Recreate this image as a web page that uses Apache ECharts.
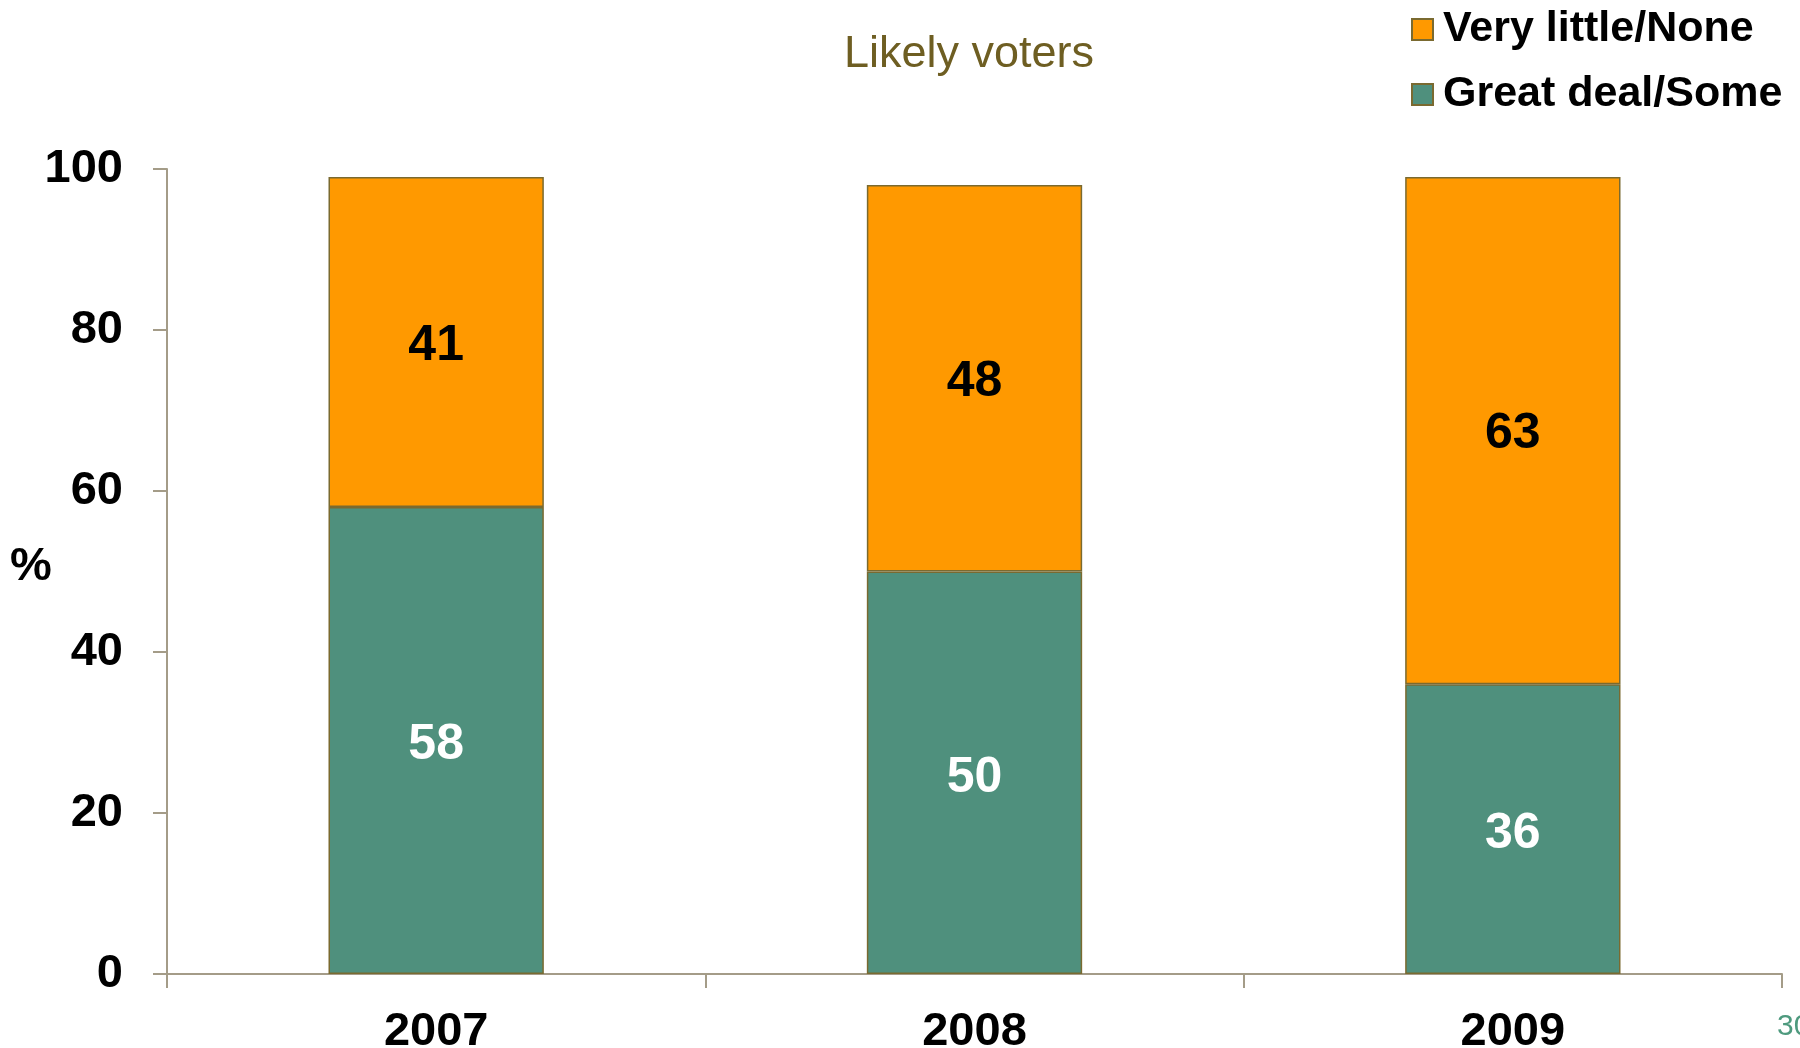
<!DOCTYPE html>
<html>
<head>
<meta charset="utf-8">
<script src="https://cdn.jsdelivr.net/npm/echarts@6/dist/echarts.min.js"></script>
<style>html,body{margin:0;padding:0;background:#fff}#c{width:1800px;height:1048px}</style>
</head>
<body>
<div id="c"></div>
<script>
var categories = ['2007', '2008', '2009'];
var greatDealSome = [58, 50, 36];
var veryLittleNone = [41, 48, 63];
var yTicks = { min: 0, max: 100, interval: 20 };
var seriesNames = ['Very little/None', 'Great deal/Some'];

var FONT = '"Liberation Sans", Arial, sans-serif';
var chart = echarts.init(document.getElementById('c'));
chart.setOption({
  animation: false,
  backgroundColor: '#ffffff',
  title: {
    text: 'Likely voters',
    left: 964, top: 50, textAlign: 'center', textVerticalAlign: 'middle',
    textStyle: { color: '#6E5E22', fontSize: 45, fontWeight: 'normal', fontFamily: FONT }
  },
  legend: {
    data: seriesNames,
    orient: 'vertical',
    left: 1411, top: 8, padding: 0,
    itemWidth: 21, itemHeight: 21, itemGap: 22,
    icon: 'rect',
    textStyle: { fontSize: 43, fontWeight: 'bold', color: '#000', fontFamily: FONT, padding: [0, 0, 0, 5] }
  },
  grid: { left: 167, right: 18, top: 169, bottom: 74, containLabel: false, outerBoundsMode: 'none' },
  xAxis: {
    type: 'category',
    data: categories,
    axisLine: { lineStyle: { color: '#A49C88', width: 2 } },
    axisTick: { show: true, length: 14, alignWithLabel: false, lineStyle: { color: '#A49C88', width: 2 } },
    axisLabel: { fontSize: 47, fontWeight: 'bold', color: '#000', fontFamily: FONT, margin: 35 }
  },
  yAxis: {
    type: 'value',
    min: yTicks.min, max: yTicks.max, interval: yTicks.interval,
    splitLine: { show: false },
    axisLine: { show: true, lineStyle: { color: '#A49C88', width: 2 } },
    axisTick: { show: true, length: 14, lineStyle: { color: '#A49C88', width: 2 } },
    axisLabel: { fontSize: 47, fontWeight: 'bold', color: '#000', fontFamily: FONT, margin: 44 }
  },
  graphic: [
    { type: 'text', left: 10, top: 544, style: { text: '%', fontSize: 47, fontWeight: 'bold', fill: '#000', fontFamily: FONT } },
    { type: 'text', left: 1777, top: 1012, style: { text: '30', fontSize: 30, fill: '#4E9A7E', fontFamily: FONT } }
  ],
  series: [
    {
      name: seriesNames[1], type: 'bar', stack: 's', data: greatDealSome, barWidth: '40%',
      itemStyle: { color: '#4F907D', borderColor: '#7A6A30', borderWidth: 1.5 },
      label: { show: true, position: 'inside', offset: [0, 5], fontSize: 50, fontWeight: 'bold', color: '#ffffff', fontFamily: FONT }
    },
    {
      name: seriesNames[0], type: 'bar', stack: 's', data: veryLittleNone, barWidth: '40%',
      itemStyle: { color: '#FF9900', borderColor: '#7A6A30', borderWidth: 1.5 },
      label: { show: true, position: 'inside', offset: [0, 4], fontSize: 50, fontWeight: 'bold', color: '#000000', fontFamily: FONT }
    }
  ]
});
</script>
</body>
</html>
